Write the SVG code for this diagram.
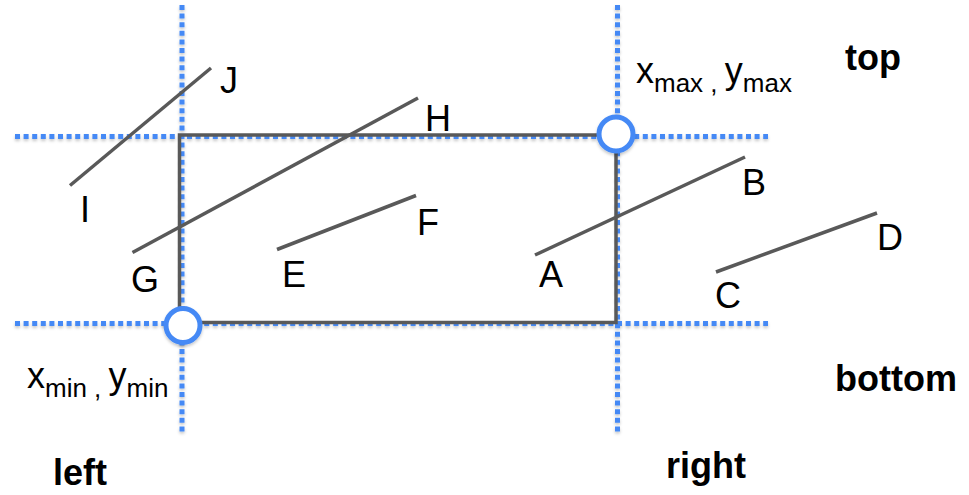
<svg xmlns="http://www.w3.org/2000/svg" width="969" height="495" viewBox="0 0 969 495">
  <defs>
    <filter id="soft" x="-20%" y="-20%" width="140%" height="140%">
      <feDropShadow dx="0" dy="2" stdDeviation="1.5" flood-color="#000" flood-opacity="0.22"/>
    </filter>
  </defs>
  <style>
    .guide { stroke: #4589f5; stroke-width: 5; stroke-dasharray: 5 3.6; fill: none; }
    .seg { stroke: #595959; stroke-width: 3.5; stroke-linecap: butt; fill: none; }
    .win { stroke: #595959; stroke-width: 3.5; fill: none; }
    .corner { fill: #ffffff; stroke: #4589f5; stroke-width: 5; }
    .lbl { font-family: "Liberation Sans", Arial, sans-serif; font-size: 36px; fill: #000; }
    .side { font-family: "Liberation Sans", Arial, sans-serif; font-size: 36px; font-weight: bold; fill: #000; }
    .sub { font-size: 26px; }
  </style>

  <rect width="969" height="495" fill="#ffffff"/>

  <!-- clipping boundaries (dotted guides) -->
  <g id="guides" filter="url(#soft)">
    <line class="guide" x1="182" y1="5" x2="182" y2="432"/>
    <line class="guide" x1="617.5" y1="5" x2="617.5" y2="432"/>
    <line class="guide" x1="15" y1="136.5" x2="768" y2="136.5"/>
    <line class="guide" x1="15" y1="323.5" x2="768" y2="323.5"/>
  </g>

  <!-- clip window -->
  <g id="window">
    <rect class="win" x="179.5" y="135" width="436.5" height="187.5"/>
  </g>

  <!-- line segments -->
  <g id="connectors">
    <line id="seg-IJ" class="seg" x1="70" y1="185.5" x2="211" y2="68"/>
    <line id="seg-GH" class="seg" x1="132.5" y1="252.5" x2="418" y2="98"/>
    <line id="seg-EF" class="seg" x1="277" y1="249.5" x2="416" y2="195.5"/>
    <line id="seg-AB" class="seg" x1="535" y1="255" x2="745" y2="157"/>
    <line id="seg-CD" class="seg" x1="716" y1="272" x2="877" y2="213"/>
  </g>

  <!-- window corners -->
  <g id="corner-max" filter="url(#soft)">
    <circle class="corner" cx="616" cy="134" r="17"/>
  </g>
  <g id="corner-min" filter="url(#soft)">
    <circle class="corner" cx="183" cy="325.5" r="17"/>
  </g>

  <!-- endpoint labels -->
  <g id="labels">
    <text class="lbl" x="220" y="93">J</text>
    <text class="lbl" x="80" y="222">I</text>
    <text class="lbl" x="425" y="131">H</text>
    <text class="lbl" x="131" y="292">G</text>
    <text class="lbl" x="282" y="287">E</text>
    <text class="lbl" x="417" y="235">F</text>
    <text class="lbl" x="539" y="287">A</text>
    <text class="lbl" x="742" y="195">B</text>
    <text class="lbl" x="715" y="308">C</text>
    <text class="lbl" x="877" y="250">D</text>
  </g>

  <!-- corner coordinates -->
  <g id="coord-max">
    <text class="lbl" x="636" y="83">x<tspan class="sub" dy="9">max , </tspan><tspan dy="-9">y</tspan><tspan class="sub" dy="9">max</tspan></text>
  </g>
  <g id="coord-min">
    <text class="lbl" x="27" y="388">x<tspan class="sub" dy="9">min , </tspan><tspan dy="-9">y</tspan><tspan class="sub" dy="9">min</tspan></text>
  </g>

  <!-- boundary names -->
  <g id="side-labels">
    <text class="side" x="845" y="70">top</text>
    <text class="side" x="835" y="391">bottom</text>
    <text class="side" x="53" y="485">left</text>
    <text class="side" x="666" y="478">right</text>
  </g>
</svg>
